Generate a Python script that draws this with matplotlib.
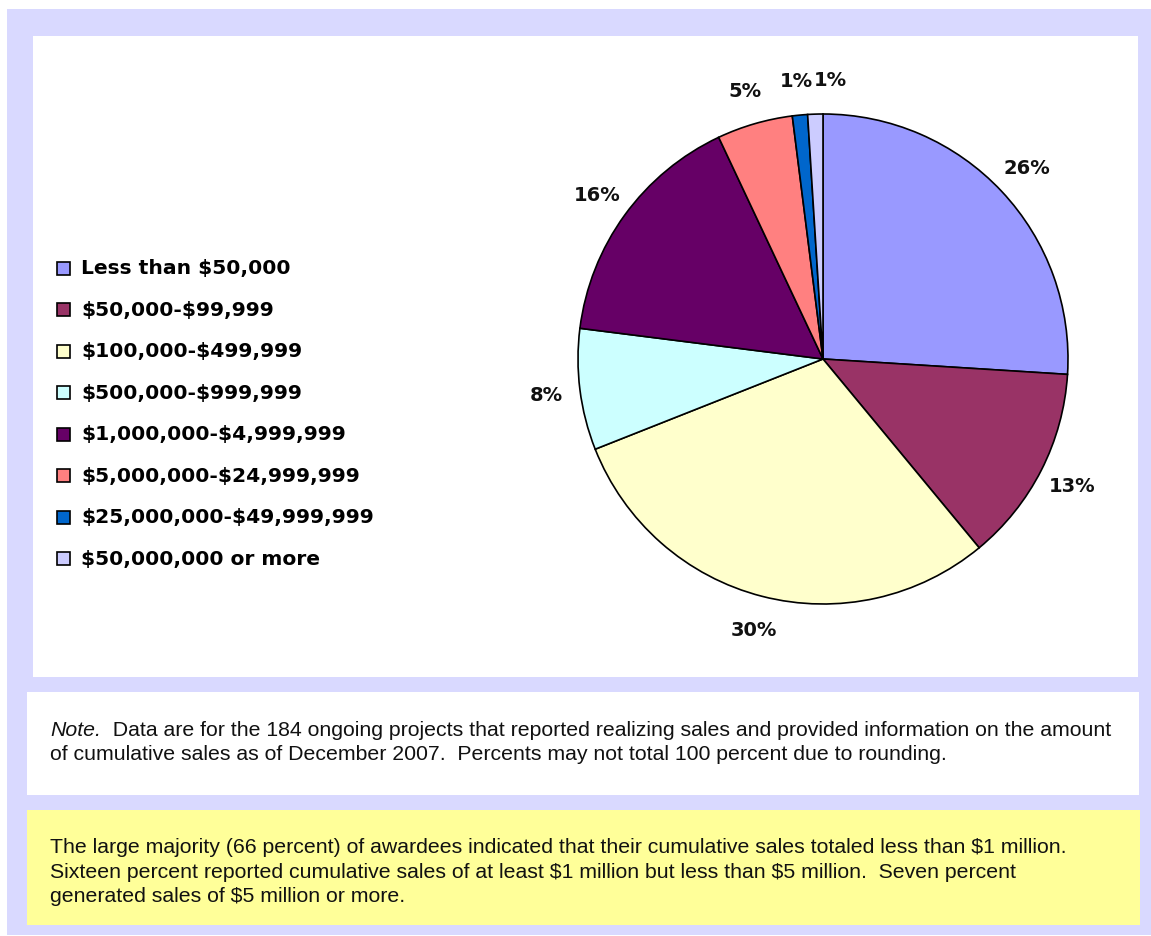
import matplotlib
matplotlib.use("Agg")
import matplotlib.pyplot as plt
from matplotlib.patches import Rectangle

plt.rcParams["text.parse_math"] = False

# sales categories and their shares (percent)
categories = ["Less than $50,000", "$50,000-$99,999", "$100,000-$499,999",
              "$500,000-$999,999", "$1,000,000-$4,999,999", "$5,000,000-$24,999,999",
              "$25,000,000-$49,999,999", "$50,000,000 or more"]
shares = [26, 13, 30, 8, 16, 5, 1, 1]
colors = ["#9999FF", "#993366", "#FFFFCC", "#CCFFFF", "#660066", "#FF8080",
          "#0066CC", "#CCCCFF"]

note_lines = ["Data are for the 184 ongoing projects that reported realizing sales and provided information on the amount",
              "of cumulative sales as of December 2007.  Percents may not total 100 percent due to rounding."]
summary_lines = ["The large majority (66 percent) of awardees indicated that their cumulative sales totaled less than $1 million.",
                 "Sixteen percent reported cumulative sales of at least $1 million but less than $5 million.  Seven percent",
                 "generated sales of $5 million or more."]

W, H = 1151, 937
fig = plt.figure(figsize=(W / 100, H / 100), dpi=100)

# background axes in pixel coords (y down)
bg = fig.add_axes([0, 0, 1, 1])
bg.set_xlim(0, W)
bg.set_ylim(H, 0)
bg.axis("off")

lav = "#D9D9FF"
bg.add_patch(Rectangle((7, 10), W - 7, 926, color=lav, lw=0))
bg.add_patch(Rectangle((33, 37), 1105, 641, color="white", lw=0))
bg.add_patch(Rectangle((27, 693), 1112, 103, color="white", lw=0))
bg.add_patch(Rectangle((27, 811), 1113, 115, color="#FFFF99", lw=0))

# legend drawn by hand so it sits like the original
leg_font = dict(family="DejaVu Sans", fontweight="bold", fontsize=14.6)
for i, (lab, c) in enumerate(zip(categories, colors)):
    y = 269 + i * 41.5
    bg.add_patch(Rectangle((57, y - 6.5), 13, 13, facecolor=c, edgecolor="black", lw=1.2))
    bg.text(81, y, lab, va="center", ha="left", color="black", **leg_font)

# note text
txt = dict(family="Liberation Sans", fontsize=15.3, color="#111111", va="center", ha="left")
note = bg.text(50, 731, "Note.", fontstyle="italic", **txt)
bg.annotate("  " + note_lines[0], xy=(1, 0.5), xycoords=note, **txt)
bg.text(50, 755, note_lines[1], **txt)
for i, line in enumerate(summary_lines):
    bg.text(50, 848 + i * 24.5, line, **txt)

# pie: center (823, 360), radius 245 px
cx, cy, r = 823, 360, 245
ax = fig.add_axes([(cx - r) / W, (H - cy - r) / H, 2 * r / W, 2 * r / H])
wedges, texts, autotexts = ax.pie(
    shares, colors=colors, startangle=90, counterclock=False,
    autopct=lambda p: f"{p:.0f}%", pctdistance=1.14,
    wedgeprops=dict(edgecolor="black", linewidth=1.2),
    textprops=dict(family="DejaVu Sans", fontweight="bold", fontsize=14, color="#111111"))
# the last tiny slice label sits just right of the top so the two 1% don't collide
autotexts[-1].set_ha("left")
ax.set_xlim(-1, 1)
ax.set_ylim(-1, 1)
ax.set_aspect("equal")
ax.axis("off")

fig.savefig("out.png", dpi=100)
